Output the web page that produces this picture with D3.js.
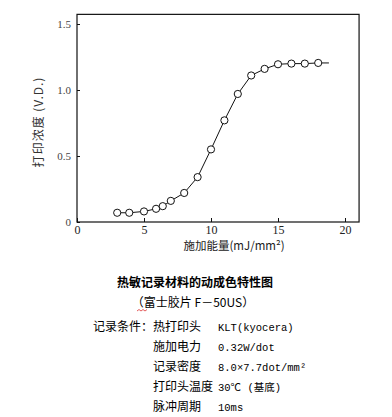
<!DOCTYPE html>
<html><head><meta charset="utf-8">
<script src="https://cdn.jsdelivr.net/npm/d3@7"></script>
<style>body{margin:0;background:#fff}svg{display:block}</style>
</head><body>
<svg id="c" width="392" height="417"></svg>
<script>
const energy = [3, 3.9, 5, 5.9, 6.4, 7, 8, 9, 10, 11, 12, 13, 14, 15, 16, 17, 18];
const density = [0.07, 0.07, 0.08, 0.10, 0.12, 0.16, 0.22, 0.34, 0.55, 0.77, 0.97, 1.11, 1.16, 1.195, 1.20, 1.20, 1.205];
const lineEnd = [18.8, 1.205];
const xTicks = [0, 5, 10, 15, 20];
const yTicks = [0, 0.5, 1.0, 1.5];
const yTickLabels = ["0", "0.5", "1.0", "1.5"];
const xTitle = "施加能量(mJ/mm²)";
const yTitle = "打印浓度 (V.D.)";
const chartTitle = "热敏记录材料的动成色特性图";
const subTitle = "（富士胶片 F－50US）";
const condLabels = ["记录条件：热打印头", "施加电力", "记录密度", "打印头温度", "脉冲周期"];
const condValues = ["KLT(kyocera)", "0.32W/dot", "8.0×7.7dot/mm²", "30℃ (基底)", "10ms"];

const svg = d3.select("#c");
const x = d3.scaleLinear().domain([0, 20]).range([77, 345]);
const y = d3.scaleLinear().domain([0, 1.5]).range([222, 24]);
const xMax = 21.05, yMax = 1.573;

// frame
svg.append("rect")
  .attr("x", x(0)).attr("y", y(yMax))
  .attr("width", x(xMax) - x(0)).attr("height", y(0) - y(yMax))
  .attr("fill", "none").attr("stroke", "#111").attr("stroke-width", 1.2);

// axes
const gx = svg.append("g").attr("transform", `translate(0,${y(0)})`)
  .call(d3.axisBottom(x).tickValues(xTicks).tickSizeInner(-4).tickSizeOuter(0).tickPadding(3).tickFormat(d3.format("d")));
gx.select(".domain").remove();
gx.selectAll("line").attr("stroke", "#111");
gx.selectAll("text").attr("font-family", "Liberation Serif").attr("font-size", 12).attr("fill", "#222");

const gy = svg.append("g").attr("transform", `translate(${x(0)},0)`)
  .call(d3.axisLeft(y).tickValues(yTicks).tickSizeInner(-3).tickSizeOuter(0).tickPadding(6).tickFormat((d, i) => yTickLabels[i]));
gy.select(".domain").remove();
gy.selectAll("line").attr("stroke", "#111");
gy.selectAll("text").attr("font-family", "Liberation Serif").attr("font-size", 11).attr("fill", "#444");

// curve
const pts = energy.map((e, i) => [e, density[i]]);
const line = d3.line().x(d => x(d[0])).y(d => y(d[1]));
svg.append("path").datum(pts.concat([lineEnd]))
  .attr("d", line).attr("fill", "none").attr("stroke", "#111").attr("stroke-width", 1);
svg.selectAll("circle.p").data(pts).enter().append("circle")
  .attr("class", "p").attr("cx", d => x(d[0])).attr("cy", d => y(d[1])).attr("r", 3.6)
  .attr("fill", "#fff").attr("stroke", "#111").attr("stroke-width", 1);

// axis titles
svg.append("text").attr("x", 234).attr("y", 250).attr("text-anchor", "middle")
  .attr("font-family", "Noto Sans CJK SC").attr("font-size", 11.5).attr("fill", "#222").text(xTitle);
svg.append("text").attr("transform", "translate(43,122) rotate(-90)").attr("text-anchor", "middle")
  .attr("font-family", "Noto Sans CJK SC").attr("font-size", 12).attr("letter-spacing", 1).attr("fill", "#333").text(yTitle);

// captions
svg.append("text").attr("x", 195).attr("y", 287).attr("text-anchor", "middle")
  .attr("font-family", "Noto Sans CJK SC").attr("font-weight", "bold").attr("font-size", 12).attr("fill", "#000").text(chartTitle);
svg.append("text").attr("x", 193).attr("y", 307).attr("text-anchor", "middle")
  .attr("font-family", "Noto Sans CJK SC").attr("font-size", 12).attr("fill", "#000").text(subTitle);
svg.append("path").attr("d", "M137,311 l2,-1.5 l2,1.5 l2,-1.5 l2,1.5 l2,-1.5")
  .attr("fill", "none").attr("stroke", "#d33").attr("stroke-width", 0.8);

const rowY = [327, 347, 367, 387, 407];
condLabels.forEach((t, i) => {
  svg.append("text").attr("x", i === 0 ? 93 : 153).attr("y", rowY[i] + 4)
    .attr("font-family", "Noto Sans CJK SC").attr("font-size", 12).attr("fill", "#000").text(t);
  svg.append("text").attr("x", 218).attr("y", rowY[i] + 4)
    .attr("font-family", "Liberation Mono, Noto Sans CJK SC").attr("font-size", 10.5).attr("fill", "#000").text(condValues[i]);
});
</script>
</body></html>
